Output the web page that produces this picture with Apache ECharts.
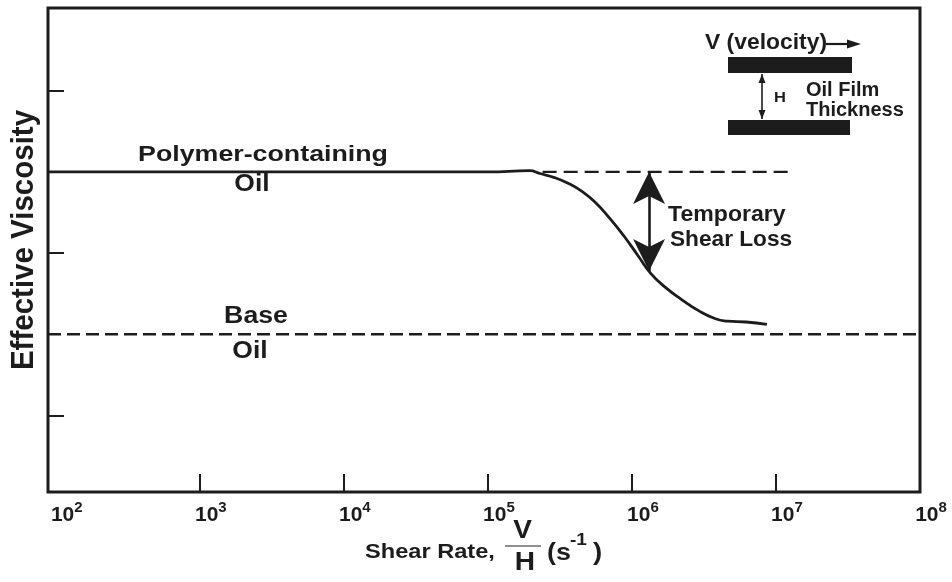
<!DOCTYPE html>
<html>
<head>
<meta charset="utf-8">
<script src="https://cdn.jsdelivr.net/npm/echarts@6/dist/echarts.min.js"></script>
<style>
  html, body { margin: 0; padding: 0; background: #ffffff; }
  #chart { width: 952px; height: 582px; }
</style>
</head>
<body>
<div id="chart"></div>
<script>
// Shear rate (s^-1) on a log scale, effective viscosity in relative units.
const rateMin = 88.3;
const rateMax = 1e8;
const decadeExponents = [2, 3, 4, 5, 6, 7, 8];
const innerTickExponents = [3, 4, 5, 6, 7];
const viscosityTicks = [1, 3, 5];

// Polymer-containing oil: flat plateau, then temporary shear thinning.
const polymerRate = [88.3, 1.0e5, 1.95e5, 2.3e5, 2.9e5, 3.6e5, 4.5e5, 5.6e5, 7.0e5,
  8.8e5, 1.1e6, 1.35e6, 1.7e6, 2.2e6, 2.9e6, 3.8e6, 4.6e6, 6.2e6, 8.65e6];
const polymerVisc = [4.0, 4.0, 4.015, 3.98, 3.93, 3.86, 3.76, 3.62, 3.43,
  3.21, 2.97, 2.75, 2.58, 2.43, 2.29, 2.19, 2.16, 2.15, 2.12];

// Plateau level carried on as a dashed reference.
const plateauRate = [2.4e5, 1.33e7];
const plateauVisc = [4.0, 4.0];

// Base oil (Newtonian).
const baseRate = [88.3, 1e8];
const baseVisc = [2.0, 2.0];

// Temporary shear loss marker.
const lossRate = 1.315e6;
const lossTop = 4.0;
const lossBottom = 2.78;

const INK = '#1c1c1c';
const FONT = '"Liberation Sans", Arial, Helvetica, sans-serif';

const toPoints = (rates, values) => rates.map((r, i) => [Math.log10(r), values[i]]);

// Bold text helper for annotations; sx widens the glyphs.
function label(text, x, y, size, sx, align, extra) {
  return Object.assign({
    type: 'text', x: x, y: y, scaleX: sx, silent: true, z: 10,
    style: {
      text: text, fill: INK, font: 'bold ' + size + 'px ' + FONT,
      align: align || 'center', verticalAlign: 'middle'
    }
  }, extra || {});
}

const chart = echarts.init(document.getElementById('chart'), null, { renderer: 'canvas' });

chart.setOption({
  animation: false,
  backgroundColor: '#ffffff',
  grid: {
    left: 48, right: 32, top: 8, bottom: 90,
    show: true, borderColor: INK, borderWidth: 3, backgroundColor: 'transparent'
  },
  xAxis: {
    type: 'value',
    min: Math.log10(rateMin),
    max: Math.log10(rateMax),
    axisLine: { show: false },
    splitLine: { show: false },
    axisTick: {
      show: true, inside: true, length: 18,
      customValues: innerTickExponents,
      lineStyle: { color: INK, width: 2 }
    },
    axisLabel: {
      show: true,
      customValues: decadeExponents,
      margin: 8,
      padding: [0, 0, 0, 22],
      formatter: v => '{b|10}{s|' + Math.round(v) + '}',
      rich: {
        b: { fontSize: 21, fontWeight: 'bold', fontFamily: FONT, color: INK, lineHeight: 26, verticalAlign: 'bottom' },
        s: { fontSize: 15, fontWeight: 'bold', fontFamily: FONT, color: INK, lineHeight: 14, verticalAlign: 'top' }
      }
    }
  },
  yAxis: {
    type: 'value',
    min: 0.055,
    max: 6.02,
    axisLine: { show: false },
    splitLine: { show: false },
    axisLabel: { show: false },
    axisTick: {
      show: true, inside: true, length: 16,
      customValues: viscosityTicks,
      lineStyle: { color: INK, width: 2 }
    }
  },
  series: [
    {
      name: 'Polymer-containing Oil',
      type: 'line',
      data: toPoints(polymerRate, polymerVisc),
      showSymbol: false, symbol: 'none',
      smooth: 0.5,
      lineStyle: { color: INK, width: 2.8 },
      z: 3
    },
    {
      name: 'Plateau',
      type: 'line',
      data: toPoints(plateauRate, plateauVisc),
      showSymbol: false, symbol: 'none',
      lineStyle: { color: INK, width: 2.2, type: [14, 7] },
      markLine: {
        silent: true,
        symbol: ['arrow', 'arrow'],
        symbolSize: [24, 32],
        label: { show: false },
        lineStyle: { color: INK, width: 2.6, type: 'solid' },
        data: [[
          { coord: [Math.log10(lossRate), lossTop] },
          { coord: [Math.log10(lossRate), lossBottom] }
        ]]
      },
      z: 2
    },
    {
      name: 'Base Oil',
      type: 'line',
      data: toPoints(baseRate, baseVisc),
      showSymbol: false, symbol: 'none',
      lineStyle: { color: INK, width: 2.4, type: [13, 6] },
      z: 2
    }
  ],
  graphic: [
    // curve labels
    label('Polymer-containing', 263, 155, 22.5, 1.19),
    label('Oil', 252, 185, 23, 1.15),
    label('Base', 256, 316.5, 23, 1.16),
    label('Oil', 250, 351.5, 23, 1.15),
    label('Temporary', 668, 215, 22, 1.05, 'left'),
    label('Shear Loss', 670, 239.5, 22, 1.03, 'left'),

    // oil film sketch
    label('V (velocity)', 705, 42.5, 22, 1.04, 'left'),
    { type: 'line', silent: true, shape: { x1: 826, y1: 44, x2: 850, y2: 44 }, style: { stroke: INK, lineWidth: 2.2 } },
    { type: 'polygon', silent: true, shape: { points: [[861, 44], [847, 39.5], [847, 48.5]] }, style: { fill: INK } },
    { type: 'rect', silent: true, shape: { x: 728, y: 57, width: 124, height: 16 }, style: { fill: INK } },
    { type: 'rect', silent: true, shape: { x: 728, y: 120, width: 122, height: 15 }, style: { fill: INK } },
    { type: 'line', silent: true, shape: { x1: 762, y1: 74, x2: 762, y2: 119 }, style: { stroke: INK, lineWidth: 1.6 } },
    { type: 'polygon', silent: true, shape: { points: [[762, 74], [758.5, 83], [765.5, 83]] }, style: { fill: INK } },
    { type: 'polygon', silent: true, shape: { points: [[762, 119], [758.5, 110], [765.5, 110]] }, style: { fill: INK } },
    label('H', 780, 97.5, 15, 1.1),
    label('Oil Film', 806, 90.5, 20, 1.0, 'left'),
    label('Thickness', 806, 110.5, 20, 1.0, 'left'),

    // y axis title
    label('Effective Viscosity', 24, 240, 29.5, 1, 'center', { rotation: Math.PI / 2, scaleX: 1, scaleY: 1.05 }),

    // x axis title: Shear Rate, V/H (s^-1)
    label('Shear Rate,', 365, 552, 20, 1.18, 'left'),
    label('V', 522.5, 531, 25, 1.12),
    { type: 'line', silent: true, shape: { x1: 505, y1: 546, x2: 541, y2: 546 }, style: { stroke: '#6a6a6a', lineWidth: 1.6 } },
    label('H', 525, 563, 26, 1.08),
    label('(s', 547, 553.5, 24, 1.12, 'left'),
    label('-1', 570, 540.5, 17, 1.12, 'left'),
    label(')', 593, 553.5, 24, 1.15, 'left')
  ]
});
</script>
</body>
</html>
